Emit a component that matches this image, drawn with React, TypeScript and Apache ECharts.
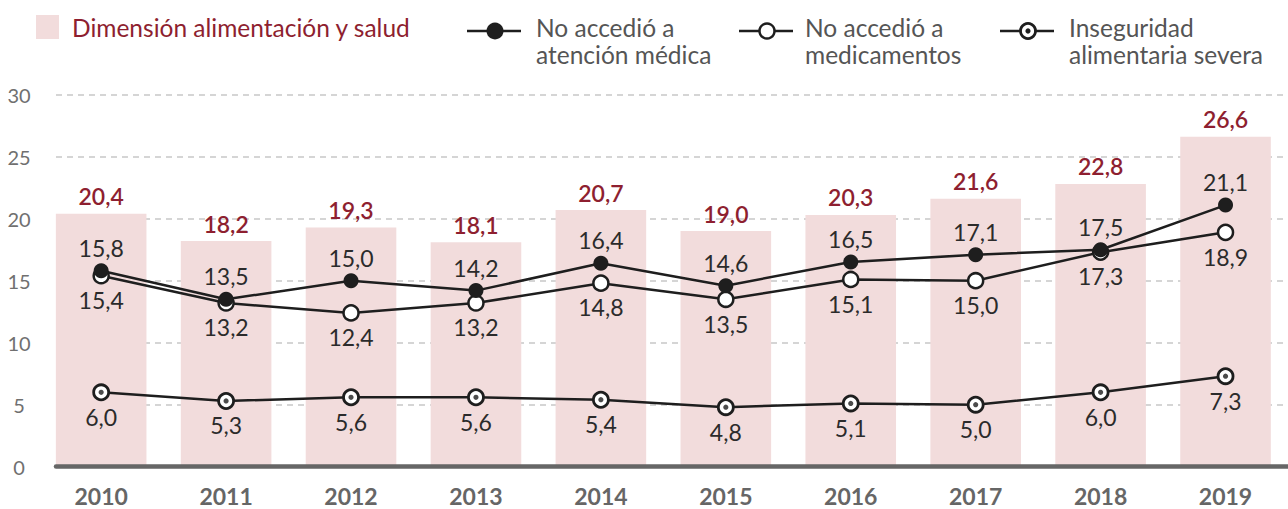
import React, { useEffect, useRef } from "react";
import * as echarts from "echarts";

const years = ["2010", "2011", "2012", "2013", "2014", "2015", "2016", "2017", "2018", "2019"];
const dimension = [20.4, 18.2, 19.3, 18.1, 20.7, 19.0, 20.3, 21.6, 22.8, 26.6];
const noMedicalCare = [15.8, 13.5, 15.0, 14.2, 16.4, 14.6, 16.5, 17.1, 17.5, 21.1];
const noMedicines = [15.4, 13.2, 12.4, 13.2, 14.8, 13.5, 15.1, 15.0, 17.3, 18.9];
const foodInsecurity = [6.0, 5.3, 5.6, 5.6, 5.4, 4.8, 5.1, 5.0, 6.0, 7.3];
const yTicks = [0, 5, 10, 15, 20, 25, 30];

const names = {
  bar: "Dimensión alimentación y salud",
  s1: ["No accedió a", "atención médica"],
  s2: ["No accedió a", "medicamentos"],
  s3: ["Inseguridad", "alimentaria severa"],
};

const FONT = "Lato, 'Open Sans', sans-serif";
const INK = "#1e1e1e";
const BAR = "#f2dcdc";
const RED = "#8e1f30";
const TXT = "#2b2b2b";
const fmt = (v: number) => v.toFixed(1).replace(".", ",");

export default function App() {
  const ref = useRef<HTMLDivElement>(null);
  useEffect(() => {
    const chart = echarts.init(ref.current!, null, { renderer: "svg" });
    const top = 94.7;
    const bottom = 509 - 466.7;
    const lineLabel = (pos: string) => ({
      show: true,
      position: pos,
      distance: 4,
      fontFamily: FONT,
      fontSize: 23,
      color: TXT,
      formatter: (p: any) => fmt(p.value),
    });
    const legendLine = (cx: number) => ({
      type: "line",
      shape: { x1: cx - 28, y1: 31, x2: cx + 26, y2: 31 },
      style: { stroke: INK, lineWidth: 2.5 },
    });
    const legendText = (x: number, lines: string[], color: string) => ({
      type: "text",
      x,
      y: 27.5,
      style: {
        text: lines.join("\n"),
        fontFamily: FONT,
        fontSize: 24.5,
        lineHeight: 27,
        fill: color,
        verticalAlign: "middle",
      },
    });
    const lg = [
      { type: "rect", shape: { x: 36, y: 15, width: 23, height: 24 }, style: { fill: BAR } },
      legendText(72, [names.bar], RED),
      legendLine(495),
      { type: "circle", shape: { cx: 495, cy: 31, r: 8.5 }, style: { fill: INK } },
      { ...legendText(536, names.s1, "#555"), y: 41 },
      legendLine(767),
      { type: "circle", shape: { cx: 767, cy: 31, r: 7.5 }, style: { fill: "#fff", stroke: INK, lineWidth: 2.5 } },
      { ...legendText(805, names.s2, "#555"), y: 41 },
      legendLine(1028),
      { type: "circle", shape: { cx: 1028, cy: 31, r: 7.5 }, style: { fill: "#fff", stroke: INK, lineWidth: 2.8 } },
      { type: "circle", shape: { cx: 1028, cy: 31, r: 2.6 }, style: { fill: INK } },
      { ...legendText(1069, names.s3, "#555"), y: 41 },
    ];
    chart.setOption({
      animation: false,
      grid: [
        { left: 56, right: 0, top, bottom },
        { left: 38.7, width: 1253.3, top, bottom },
      ],
      xAxis: [
        {
          gridIndex: 0,
          type: "category",
          data: years,
          z: 10,
          axisLine: { show: true, lineStyle: { color: "#666", width: 4.5 } },
          axisTick: { show: false },
          axisLabel: { show: false },
          splitLine: { show: false },
        },
        {
          gridIndex: 1,
          type: "category",
          data: years,
          axisLine: { show: false },
          axisTick: { show: false },
          axisLabel: {
            margin: 20,
            fontFamily: FONT,
            fontSize: 23,
            lineHeight: 18,
            fontWeight: "bold",
            color: "#666",
          },
        },
      ],
      yAxis: [
        {
          gridIndex: 0,
          type: "value",
          min: yTicks[0],
          max: yTicks[yTicks.length - 1],
          interval: 5,
          axisLine: { show: false },
          axisTick: { show: false },
          axisLabel: { margin: 37, align: "center", fontFamily: FONT, fontSize: 20, color: "#707070" },
          splitLine: { lineStyle: { color: "#c8c8c8", width: 1.5, type: [6, 5] } },
        },
        {
          gridIndex: 1,
          type: "value",
          min: yTicks[0],
          max: yTicks[yTicks.length - 1],
          show: false,
          splitLine: { show: false },
        },
      ],
      graphic: lg,
      series: [
        {
          type: "bar",
          xAxisIndex: 1,
          yAxisIndex: 1,
          data: dimension,
          barWidth: 90.6,
          itemStyle: { color: BAR },
          label: {
            show: true,
            position: "top",
            distance: 6,
            fontFamily: FONT,
            fontSize: 23,
            fontWeight: 600,
            color: RED,
            formatter: (p: any) => fmt(p.value),
          },
          z: 1,
        },
        {
          type: "line",
          name: names.s3.join(" "),
          xAxisIndex: 1,
          yAxisIndex: 1,
          data: foodInsecurity,
          symbol: "circle",
          symbolSize: 15,
          lineStyle: { color: INK, width: 2.5 },
          itemStyle: { color: "#fff", borderColor: INK, borderWidth: 2.8 },
          label: lineLabel("bottom"),
          z: 3,
        },
        {
          type: "scatter",
          xAxisIndex: 1,
          yAxisIndex: 1,
          data: foodInsecurity,
          symbol: "circle",
          symbolSize: 5.2,
          itemStyle: { color: INK },
          silent: true,
          z: 4,
        },
        {
          type: "line",
          name: names.s2.join(" "),
          xAxisIndex: 1,
          yAxisIndex: 1,
          data: noMedicines,
          symbol: "circle",
          symbolSize: 15,
          lineStyle: { color: INK, width: 2.5 },
          itemStyle: { color: "#fff", borderColor: INK, borderWidth: 2.5 },
          label: lineLabel("bottom"),
          z: 3,
        },
        {
          type: "line",
          name: names.s1.join(" "),
          xAxisIndex: 1,
          yAxisIndex: 1,
          data: noMedicalCare,
          symbol: "circle",
          symbolSize: 15,
          lineStyle: { color: INK, width: 2.5 },
          itemStyle: { color: INK, borderColor: INK, borderWidth: 0 },
          label: lineLabel("top"),
          z: 5,
        },
      ],
    });
    return () => chart.dispose();
  }, []);
  return (
    <div
      ref={ref}
      style={{ position: "fixed", left: 0, top: 0, width: 1288, height: 509, background: "#fff" }}
    />
  );
}
